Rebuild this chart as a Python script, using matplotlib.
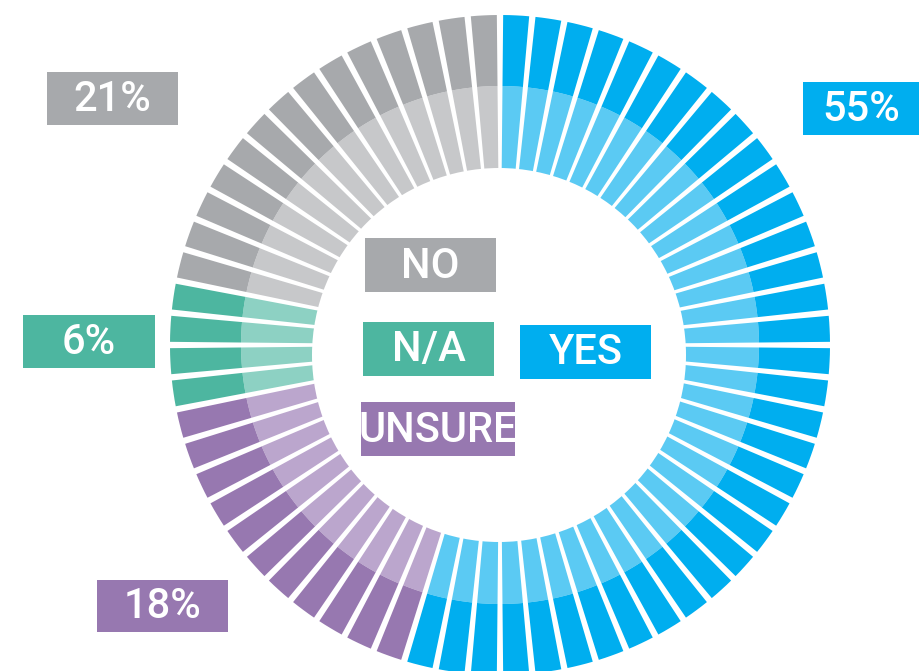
import numpy as np
import matplotlib
matplotlib.use("Agg")
import matplotlib.pyplot as plt
from matplotlib.patches import Wedge, Circle, Rectangle

# ---- data ----
categories = ["YES", "UNSURE", "N/A", "NO"]
percent = [55, 18, 6, 21]
bar_counts = [35, 11, 4, 14]          # number of ring segments per answer
dark_colors = ["#00AEEF", "#9778B0", "#4DB6A0", "#A7A9AC"]
light_colors = ["#5BCAF3", "#BBA6CD", "#8DD1C3", "#C7C8CA"]

W, H = 919, 671
fig = plt.figure(figsize=(W / 100, H / 100), dpi=100)
ax = fig.add_axes([0, 0, 1, 1])
ax.set_xlim(0, W)
ax.set_ylim(H, 0)
ax.set_aspect("equal")
ax.axis("off")

cx, cy = 500, 345
r_out, r_mid = 330, 259
inner_c = (499, 355)
r_in = 187
n_total = sum(bar_counts)
pitch = 360.0 / n_total
gap = 1.1

i = 0
for cat, n, dc, lc in zip(categories, bar_counts, dark_colors, light_colors):
    for _ in range(n):
        a1 = i * pitch + gap / 2
        a2 = (i + 1) * pitch - gap / 2
        t1 = a1 - 90
        t2 = a2 - 90
        ax.add_patch(Wedge((cx, cy), r_mid, t1, t2, width=r_mid - 120,
                           facecolor=lc, edgecolor="none"))
        ax.add_patch(Wedge((cx, cy), r_out, t1, t2, width=r_out - r_mid,
                           facecolor=dc, edgecolor="none"))
        i += 1

ax.add_patch(Circle(inner_c, r_in, facecolor="white", edgecolor="none", zorder=3))

fam = ["Roboto", "DejaVu Sans"]

def box(x0, y0, x1, y1, color, text, fs=30):
    ax.add_patch(Rectangle((x0, y0), x1 - x0, y1 - y0, facecolor=color,
                           edgecolor="none", zorder=4, clip_on=False))
    ax.text((x0 + x1) / 2, (y0 + y1) / 2 + 1, text, color="white", fontsize=fs,
            ha="center", va="center", family=fam, fontweight="medium", zorder=5)

col = dict(zip(categories, dark_colors))
pct = dict(zip(categories, percent))

# outer percentage labels
box(47, 72, 178, 125, col["NO"], f"{pct['NO']}%")
box(803, 82, 919, 135, col["YES"], f"{pct['YES']}%")
box(23, 315, 155, 368, col["N/A"], f"{pct['N/A']}%")
box(97, 580, 228, 632, col["UNSURE"], f"{pct['UNSURE']}%")

# inner category labels
box(365, 238, 496, 292, col["NO"], "NO")
box(363, 322, 494, 376, col["N/A"], "N/A")
box(520, 325, 651, 379, col["YES"], "YES")
box(361, 402, 515, 456, col["UNSURE"], "UNSURE")

fig.savefig("out.png", dpi=100, facecolor="white")
